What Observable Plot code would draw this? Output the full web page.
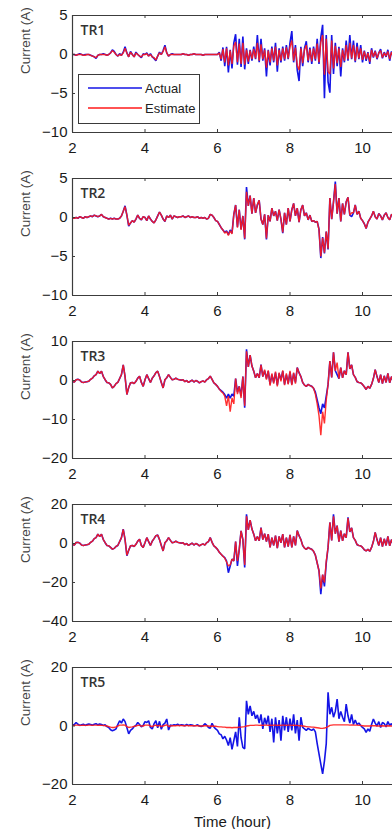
<!DOCTYPE html>
<html><head><meta charset="utf-8">
<script src="https://cdn.jsdelivr.net/npm/d3@7"></script>
<script src="https://cdn.jsdelivr.net/npm/@observablehq/plot@0.6"></script>
<style>
body{margin:0;background:#fff;}
#wrap{position:relative;width:392px;height:829px;overflow:hidden;background:#fff;}
#wrap svg{display:block;}
.legend{position:absolute;left:78px;top:74px;width:122px;height:50px;border:1px solid #3a3a3a;background:#fff;box-sizing:border-box;font:13px "Liberation Sans",Arial,sans-serif;color:#222;}
.legend span{position:absolute;left:66px;line-height:13px;}
</style></head><body><div id="wrap"></div>
<script>
// sample times (hours): 2.00 .. 10.85 every 0.05 h
const t0 = 2, dt = 0.05, nSamples = 178;
const time = d3.range(nSamples).map(i => +(t0 + i * dt).toFixed(2));
const xTicks = [2, 4, 6, 8, 10];
const seriesNames = ["Actual", "Estimate"];
const panelNames = ["TR1", "TR2", "TR3", "TR4", "TR5"];
const yDomains = [[-10, 5], [-10, 5], [-20, 10], [-40, 20], [-20, 20]];
const yTicks = [[-10, -5, 0, 5], [-10, -5, 0, 5], [-20, -10, 0, 10], [-40, -20, 0, 20], [-20, 0, 20]];

// TR1
const a1 = [
0,0,-0.1,0,0.1,0,-0.1,0,0,0,-0.1,-0.2,-0.3,-0.5,-0.1,0,0,0.1,0,-0.1,
0,0.2,0.6,0.4,0,-0.2,0.1,-0.1,0.3,1.0,0.2,-0.3,0.4,0,-0.3,0.3,0,-0.2,-0.4,0.1,
0,0.2,-0.2,0.1,-0.3,-0.5,-0.8,-0.2,0.3,0,0.5,1.2,0.2,-0.2,0,0.1,0,0,0,0,
0,0.1,0,0,-0.1,0,0,0.1,0,0,0,0,-0.1,0,0,0,0,0,0,0,
0,0.3,-0.8,0.9,-1.5,1.0,-2.3,0.6,-1.8,1.5,2.6,-1.3,2.0,-1.6,2.3,-1.9,0.8,-1.2,0.6,-0.8,
1.0,-0.6,2.5,-1.0,2.0,-0.8,0.8,-2.8,0.6,-1.4,1.0,-1.0,1.5,-2.2,0.8,-1.0,1.0,-0.8,1.2,-0.6,
1.5,3.0,-1.0,1.2,-2.0,-3.4,1.0,-1.5,0.8,1.7,-1.0,0.9,-1.2,1.0,-0.8,2.0,-1.2,2.2,3.8,-5.6,
2.5,-3.5,-4.9,2.5,-2.5,1.5,-1.5,1.0,-2.8,0.8,-1.0,1.8,-0.8,2.5,-0.6,1.8,-1.0,1.5,-0.6,1.2,
-1.0,0.5,-0.8,0.3,-1.2,0.8,-0.4,0.5,-0.6,0.2,0.7,-0.5,0.3,-0.3,0.6,-0.8,0.4,-0.3];
const e1 = [
0,0,-0.1,0,0,0,-0.1,-0.1,0,0,-0.1,-0.2,-0.3,-0.4,-0.1,0,0,0,0,-0.1,
0,0.2,0.5,0.3,0,-0.2,0,-0.1,0.2,0.8,0.2,-0.3,0.3,0,-0.3,0.2,0,-0.2,-0.3,0,
0,0.1,-0.2,0,-0.3,-0.4,-0.7,-0.2,0.2,0,0.4,1.0,0.2,-0.2,0,0,0,0,0,0,
0,0.1,0,0,-0.1,0,0,0.1,0,0,0,0,-0.1,0,0,0,0,0,0,0,
0,0.2,-0.6,0.7,-1.0,0.8,-1.4,0.5,-1.2,1.1,1.6,-1.0,1.4,-1.2,1.5,-1.3,0.6,-0.9,0.5,-0.6,
0.7,-0.5,1.5,-0.8,1.3,-0.6,0.6,-1.7,0.5,-1.0,0.8,-0.8,1.0,-1.4,0.6,-0.8,0.8,-0.6,0.9,-0.5,
1.0,1.8,-0.8,0.9,-1.4,-2.0,0.8,-1.1,0.6,1.2,-0.8,0.7,-0.9,0.8,-0.6,1.4,-1.0,1.6,2.5,-2.6,
2.0,-2.2,-2.5,1.8,-1.8,1.1,-1.1,0.8,-1.6,0.6,-0.8,1.2,-0.6,1.5,-0.5,1.2,-0.8,1.0,-0.5,0.8,
-0.7,0.4,-0.6,0.2,-0.9,0.6,-0.3,0.4,-0.5,0.2,0.5,-0.4,0.2,-0.2,0.4,-0.6,0.3,-0.2];

// TR2
const a2 = [
-0.1,-0.1,0,-0.1,0.1,0,-0.1,0.1,0,0.1,0.2,0.1,0.3,0.2,0.1,0.2,0.4,0.1,0,-0.1,
-0.2,-0.1,-0.2,-0.1,-0.2,-0.2,-0.1,0.2,0.8,1.5,0.3,-1.1,-0.7,-0.4,-0.6,-0.2,0.3,-0.1,-0.3,0.1,
0,-0.4,0.2,-0.2,-0.5,-0.7,-0.3,0.2,0.7,0.3,-0.2,-0.5,0.2,0,0.3,-0.2,0.2,0.1,0,0.1,
0.1,0.2,0,0.1,0.2,0,0.1,0,0,0.1,-0.1,0,-0.1,0,-0.2,-0.1,0.4,0.3,0,-0.4,
-0.5,-0.9,-1.3,-1.6,-1.9,-1.7,-2.2,-1.6,-2.0,0.4,1.6,-1.2,1.0,-1.5,0.2,-2.8,3.9,1.5,2.8,0.5,
2.5,0.6,1.6,2.2,-0.2,-0.9,0.4,-2.8,0.3,-0.5,1.2,0.2,0.8,-0.4,1.0,-0.2,-2.0,0.6,-0.9,1.2,
-0.5,1.0,1.8,0.2,1.2,-0.6,1.0,1.6,0.2,0.6,-0.3,0.3,-0.5,-0.4,-0.6,-0.5,-1.5,-5.2,-2.5,-4.6,
-1.8,-4.1,2.5,-0.2,2.0,4.6,0.5,2.5,-0.5,1.8,0.4,2.0,2.6,0.3,0.1,0.6,1.6,0.4,0.8,-0.1,
-0.4,-0.8,-1.4,-0.6,-0.2,0.2,0.8,0.1,-0.2,0.5,0.2,-0.3,0.3,0.6,0,-0.3,0.4,0.2];
const e2 = [
-0.1,-0.1,0,-0.1,0.1,0,-0.1,0.1,0,0.1,0.2,0.1,0.3,0.2,0.1,0.2,0.4,0.1,0,-0.1,
-0.2,-0.1,-0.2,-0.1,-0.2,-0.2,-0.1,0.2,0.8,1.4,0.3,-1.0,-0.7,-0.4,-0.6,-0.2,0.3,-0.1,-0.3,0.1,
0,-0.4,0.2,-0.2,-0.5,-0.7,-0.3,0.2,0.7,0.3,-0.2,-0.5,0.2,0,0.3,-0.2,0.2,0.1,0,0.1,
0.1,0.2,0,0.1,0.2,0,0.1,0,0,0.1,-0.1,0,-0.1,0,-0.2,-0.1,0.4,0.3,0,-0.4,
-0.5,-0.9,-1.3,-1.6,-2.0,-1.8,-2.3,-1.7,-2.1,0.4,1.6,-1.3,1.0,-1.6,0.2,-2.7,3.3,1.5,2.8,0.5,
2.5,0.6,1.7,2.2,-0.2,-0.9,0.4,-2.7,0.3,-0.5,1.2,0.2,0.8,-0.4,1.0,-0.2,-1.9,0.6,-0.9,1.2,
-0.5,1.0,1.8,0.2,1.2,-0.6,1.0,1.6,0.2,0.6,-0.3,0.3,-0.5,-0.4,-0.6,-0.5,-1.6,-5.0,-2.6,-4.5,
-1.8,-4.0,2.5,-0.2,2.0,4.3,0.5,2.5,-0.5,1.8,0.4,2.0,2.6,0.3,0.6,0.6,1.6,0.4,0.8,-0.1,
-0.4,-0.8,-1.4,-0.6,-0.2,0.2,0.8,0.1,-0.2,0.5,0.2,-0.3,0.3,0.6,0,-0.3,0.4,0.2];

// TR3
const a3 = [
-0.3,-0.4,0.2,0.3,0.1,-0.4,-0.5,-0.4,-0.3,-0.2,0.3,0.6,1.2,1.5,2.4,1.8,2.4,1.0,0.2,-0.5,
-0.6,-1.0,-1.9,-1.5,-0.8,-0.5,0.5,1.5,4.0,1.0,-3.6,-1.8,-0.6,-0.5,-0.8,-0.2,0.6,1.1,-0.5,-1.5,
0.2,1.5,0.5,-0.5,0.6,1.2,2.0,2.4,1.0,-0.5,-1.9,0.2,0.7,1.5,0.8,0.2,0.3,0.6,0.3,0.2,
0.1,0.2,-0.3,0,-0.5,-0.2,0.1,-0.4,0,-0.2,-0.6,-0.3,-0.1,-0.4,0.2,0.5,1.1,0.3,-0.6,-1.0,
-1.5,-2.2,-2.6,-3.0,-3.6,-4.5,-3.5,-4.5,-3.5,-4.0,0.5,-3.0,-1.5,-4.0,1.0,-7.0,8.0,3.5,6.5,3.7,
2.4,0.7,1.8,0.7,4.1,1.0,2.5,0.5,2.4,-1.0,1.5,-0.5,2.0,-1.2,1.8,0.2,2.4,-1.0,1.5,-0.8,
2.2,-1.0,1.8,-0.5,3.3,2.0,1.0,-0.5,-1.2,-1.5,-1.0,-1.3,-1.5,-2.0,-3.0,-5.0,-7.0,-8.5,-6.0,-7.0,
-4.0,-1.0,5.0,0.8,7.2,2.5,1.5,0.5,3.3,0.7,2.5,1.5,7.2,3.0,4.0,1.5,0.8,-0.3,-0.5,-0.6,
-1.0,-1.6,-2.3,-1.5,-2.0,-1.0,0.5,2.8,1.0,-0.5,1.5,-0.8,1.2,-0.5,1.8,-0.6,1.0,-0.3];
const e3 = [
-0.3,-0.4,0.2,0.3,0.1,-0.4,-0.5,-0.4,-0.3,-0.2,0.3,0.6,1.2,1.5,2.4,1.8,2.4,1.0,0.2,-0.5,
-0.6,-1.0,-1.9,-1.5,-0.8,-0.5,0.5,1.5,4.0,1.0,-3.6,-1.8,-0.6,-0.5,-0.8,-0.2,0.6,1.1,-0.5,-1.5,
0.2,1.5,0.5,-0.5,0.6,1.2,2.0,2.4,1.0,-0.5,-1.9,0.2,0.7,1.5,0.8,0.2,0.3,0.6,0.3,0.2,
0.1,0.2,-0.3,0,-0.5,-0.2,0.1,-0.4,0,-0.2,-0.6,-0.3,-0.1,-0.4,0.2,0.5,1.1,0.3,-0.6,-1.0,
-1.5,-2.2,-2.8,-3.2,-4.0,-6.5,-4.0,-8.0,-4.5,-6.0,0.5,-3.5,-1.5,-4.5,1.0,-6.5,7.5,3.5,6.5,3.7,
2.4,0.7,1.8,0.7,4.0,1.0,2.8,0.2,2.6,-1.3,1.8,-0.8,2.3,-1.5,2.0,-0.2,2.6,-1.2,1.8,-1.0,
2.5,-1.2,2.0,-0.8,3.3,2.0,1.0,-0.5,-1.2,-1.5,-1.0,-1.3,-1.5,-2.0,-3.5,-6.0,-9.0,-14.0,-8.0,-11.0,
-5.0,-1.0,5.0,0.8,7.2,2.5,4.6,0.5,3.3,0.7,2.5,1.5,7.2,3.0,4.0,1.5,0.8,-0.3,-0.5,-0.6,
-1.0,-1.6,-2.3,-1.5,-2.0,-1.0,0.5,2.8,1.0,-0.5,1.5,-0.8,1.2,-0.5,1.8,-0.6,1.0,-0.3];

// TR4
const a4 = [
-0.6,-0.8,0.5,0.6,0.2,-0.8,-1.0,-0.8,-0.6,-0.4,0.6,1.2,2.5,3.0,4.8,3.6,4.8,2.0,0.4,-1.0,
-1.2,-2.0,-2.9,-2.5,-1.5,-1.0,1.0,3.0,7.4,2.0,-6.3,-3.5,-1.2,-1.0,-1.5,-0.4,1.2,2.2,-1.0,-2.0,
0.4,3.0,1.0,-1.0,1.2,2.5,4.0,4.3,2.0,-1.0,-3.8,0.4,1.4,3.0,1.6,0.4,0.6,1.2,0.6,0.4,
0.2,0.4,-0.6,0,-1.0,-0.4,0.2,-0.8,0,-0.4,-1.2,-0.6,-0.2,-0.8,0.4,1.0,3.0,0.6,-1.2,-2.0,
-3.0,-4.5,-5.5,-6.5,-7.2,-9.0,-15.0,-11.5,-8.0,-9.0,1.0,-11.5,-3.0,6.5,2.0,-12.3,15.0,7.0,12.0,7.4,
4.8,1.4,3.6,1.4,8.2,2.0,5.0,1.0,4.8,-2.0,3.0,-1.0,4.0,-2.4,3.6,0.4,4.8,-2.0,3.0,-1.6,
4.4,-2.0,3.6,-1.0,6.6,4.0,2.0,-1.0,-2.4,-3.0,-2.0,-2.6,-3.0,-4.0,-6.0,-10.0,-14.0,-26.0,-16.0,-22.0,
-10.0,-2.0,10.8,1.6,15.0,5.0,9.2,1.0,6.6,1.4,5.0,3.0,13.4,6.0,8.0,3.0,1.6,-0.6,-1.0,-1.2,
-2.0,-3.2,-3.8,-3.0,-4.0,-2.0,1.0,5.7,2.0,-1.0,3.0,-1.6,2.4,-1.0,3.6,-1.2,2.0,-0.6];
const e4 = [
-0.6,-0.8,0.5,0.6,0.2,-0.8,-1.0,-0.8,-0.6,-0.4,0.6,1.2,2.5,3.0,4.8,3.6,4.8,2.0,0.4,-1.0,
-1.2,-2.0,-2.9,-2.5,-1.5,-1.0,1.0,3.0,7.2,2.0,-6.0,-3.5,-1.2,-1.0,-1.5,-0.4,1.2,2.2,-1.0,-2.0,
0.4,3.0,1.0,-1.0,1.2,2.5,4.0,4.3,2.0,-1.0,-3.8,0.4,1.4,3.0,1.6,0.4,0.6,1.2,0.6,0.4,
0.2,0.4,-0.6,0,-1.0,-0.4,0.2,-0.8,0,-0.4,-1.2,-0.6,-0.2,-0.8,0.4,1.0,3.0,0.6,-1.2,-2.0,
-3.0,-4.5,-5.5,-6.5,-7.5,-9.5,-11.5,-11.0,-8.0,-9.0,1.0,-9.0,-3.0,6.5,2.0,-11.0,14.0,7.0,12.0,7.4,
4.8,1.4,3.6,1.4,8.0,2.0,5.0,1.0,4.8,-2.0,3.0,-1.0,4.0,-2.4,3.6,0.4,4.8,-2.0,3.0,-1.6,
4.4,-2.0,3.6,-1.0,6.6,4.0,2.0,-1.0,-2.4,-3.0,-2.0,-2.6,-3.0,-4.0,-6.0,-10.0,-14.0,-23.0,-16.0,-20.0,
-9.0,-2.0,10.8,1.6,14.0,5.0,9.2,1.0,6.6,1.4,5.0,3.0,13.0,6.0,8.0,3.0,1.6,-0.6,-1.0,-1.2,
-2.0,-3.2,-3.8,-3.0,-4.0,-2.0,1.0,5.7,2.0,-1.0,3.0,-1.6,2.4,-1.0,3.6,-1.2,2.0,-0.6];

// TR5
const a5 = [
0.3,0.5,1.2,0.6,0.2,0.4,0.6,0.2,0.5,0.7,0.5,0.3,0.6,0.8,0.4,0.7,0.5,0.2,0.4,-0.2,
-0.5,-1.3,-1.6,-1.4,-1.0,0.5,1.8,1.0,2.4,1.5,-0.5,-2.7,-1.5,-1.0,-0.2,0.2,1.2,0.5,-0.3,0.2,
1.5,1.2,1.8,-0.5,-1.0,0.8,1.8,-0.6,1.6,-1.1,0.5,1.0,2.4,-1.4,0.3,0.2,0.4,0.3,0.6,0.2,
0.4,0.3,0.1,0.5,0.2,0.4,0.3,0.1,0.2,0.4,0,-0.2,0.1,0.8,0.3,-0.5,-0.8,0.9,-0.3,-1.0,
-1.5,-2.7,-3.0,-4.4,-3.5,-4.8,-6.7,-4.0,-8.0,-5.0,-2.0,-7.0,3.0,-4.0,-7.3,-7.8,8.6,4.0,6.9,3.5,
5.0,2.5,3.8,1.0,4.0,-1.0,2.8,0.5,3.5,-2.0,2.5,-5.6,3.0,-2.5,2.0,-5.0,3.5,-1.5,3.0,-2.0,
2.5,-1.5,4.0,-2.5,2.0,-5.0,3.0,-0.5,-1.0,-1.5,-0.8,-1.2,-1.5,-1.0,-2.0,-6.0,-9.5,-13.0,-16.4,-12.0,
-6.0,11.5,4.0,6.4,3.0,5.0,9.2,2.5,5.0,3.0,1.5,7.5,3.5,1.0,4.0,0.5,2.0,0.5,1.0,0.2,
-0.5,-1.0,-2.2,-1.0,-1.8,0.5,2.4,1.0,0,1.5,-0.5,1.2,0.8,-0.3,1.5,0.2,0.8,-0.5];
const e5 = [
0.2,0.2,0.3,0.3,0.2,0.2,0.3,0.2,0.2,0.3,0.3,0.2,0.3,0.3,0.2,0.3,0.2,0.2,0.1,0,
-0.2,-0.4,-0.5,-0.5,-0.3,0,0.3,0.3,0.4,0.3,-0.2,-0.5,-0.4,-0.3,-0.1,0,0.2,0.2,0,0,
0.3,0.3,0.3,0,-0.2,0.1,0.3,0,0.2,-0.2,0,0.2,0.4,-0.2,0,0.1,0.1,0.1,0.2,0.1,
0.2,0.1,0.1,0.2,0.1,0.1,0.1,0.1,0.1,0.1,0,0,0,0.1,0.1,0,-0.1,0,-0.1,-0.1,
-0.2,-0.3,-0.3,-0.4,-0.4,-0.5,-0.5,-0.5,-0.6,-0.5,-0.5,-0.5,-0.4,-0.4,-0.3,-0.2,0,0.1,0.2,0.2,
0.2,0.3,0.3,0.2,0.3,0.2,0.3,0.3,0.2,0.3,0.2,0.3,0.3,0.2,0.3,0.2,0.3,0.3,0.2,0.3,
0.3,0.2,0.3,0.2,0.2,0.1,0.1,0,-0.1,-0.2,-0.3,-0.3,-0.4,-0.4,-0.5,-0.6,-0.7,-0.8,-0.8,-0.7,
-0.5,-0.2,0.2,0.3,0.4,0.4,0.4,0.4,0.4,0.4,0.4,0.4,0.4,0.3,0.4,0.3,0.3,0.3,0.2,0.2,
0.1,0,0,0,0,0.1,0.1,0.1,0,0,0,0.1,0,0,0.1,0,0,0];

const actualSeries = [a1, a2, a3, a4, a5];
const estimateSeries = [e1, e2, e3, e4, e5];

const colors = {Actual: "#1414e6", Estimate: "#ff1a1a"};
const frameColor = "#3c3c3c";
const W = 392, mL = 72, mT = 15, plotH = 117;
const plotW = W - mL;
const xMax = 2 + plotW / 36.25;

const wrap = document.getElementById("wrap");

panelNames.forEach((name, p) => {
  const last = p === panelNames.length - 1;
  const H = last ? 177 : 163;
  const mB = H - mT - plotH;
  const [y0, y1] = yDomains[p];
  const idx = d3.range(time.length);
  const act = actualSeries[p], est = estimateSeries[p];
  const chart = Plot.plot({
    width: W, height: H,
    marginTop: mT, marginBottom: mB, marginLeft: mL, marginRight: 0,
    x: {domain: [2, xMax]},
    y: {domain: [y0, y1]},
    style: {fontFamily: "'Liberation Sans', Arial, sans-serif", fontSize: "15px", color: "#1a1a1a", background: "#fff"},
    marks: [
      Plot.line(idx, {x: i => time[i], y: i => act[i], stroke: colors.Actual, strokeWidth: 1.6, strokeLinejoin: "miter", clip: true}),
      Plot.line(idx, {x: i => time[i], y: i => est[i], stroke: colors.Estimate, strokeWidth: 1.4, strokeOpacity: 0.9, strokeLinejoin: "miter", clip: true}),
      Plot.ruleY([y0, y1], {y: d => d, stroke: frameColor, strokeWidth: 1.2}),
      Plot.ruleX([2], {x: d => d, stroke: frameColor, strokeWidth: 1.2}),
      Plot.tickX(xTicks, {x: d => d, insetTop: plotH - 3, stroke: frameColor}),
      Plot.tickX(xTicks, {x: d => d, insetBottom: plotH - 3, stroke: frameColor}),
      Plot.tickY(yTicks[p], {y: d => d, insetRight: plotW - 3, stroke: frameColor}),
      Plot.axisX(xTicks, {tickSize: 0, tickPadding: 10, fontSize: 15, label: last ? "Time (hour)" : null, labelAnchor: "center", labelOffset: 42, labelArrow: false}),
      Plot.axisY(yTicks[p], {tickSize: 0, tickPadding: 5, fontSize: 15, tickFormat: d => String(d).replace("-", "\u2212"), label: null}),
      Plot.text(["Current (A)"], {text: d => d, frameAnchor: "left", rotate: -90, dx: -47, fontSize: 13.5, fill: "#444"}),
      Plot.text([name], {text: d => d, frameAnchor: "top-left", textAnchor: "start", lineAnchor: "top", dx: 8, dy: 10, fontFamily: "'Open Sans', sans-serif", fontSize: 14, fontWeight: 600, fill: "#333"})
    ]
  });
  wrap.appendChild(chart);
});

// legend (inside TR1 panel)
const leg = document.createElement("div");
leg.className = "legend";
const ns = "http://www.w3.org/2000/svg";
const lsvg = document.createElementNS(ns, "svg");
lsvg.setAttribute("width", 120); lsvg.setAttribute("height", 48);
lsvg.style.position = "absolute"; lsvg.style.left = "0"; lsvg.style.top = "0";
seriesNames.forEach((s, k) => {
  const ln = document.createElementNS(ns, "line");
  ln.setAttribute("x1", 9); ln.setAttribute("x2", 63);
  ln.setAttribute("y1", 13 + 20 * k); ln.setAttribute("y2", 13 + 20 * k);
  ln.setAttribute("stroke", colors[s]); ln.setAttribute("stroke-width", 1.4);
  lsvg.appendChild(ln);
  const sp = document.createElement("span");
  sp.textContent = s;
  sp.style.top = (7 + 20 * k) + "px";
  leg.appendChild(sp);
});
leg.appendChild(lsvg);
wrap.appendChild(leg);
</script></body></html>
